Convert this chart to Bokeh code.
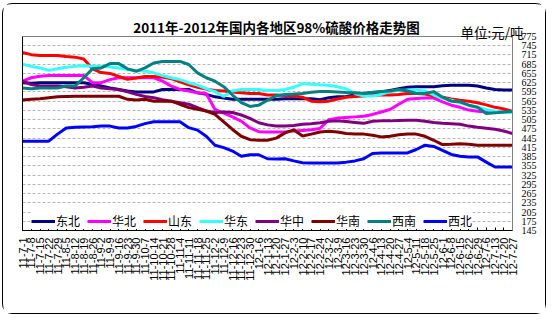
import math
from bokeh.plotting import figure
from bokeh.layouts import column
from bokeh.models import Range1d, FixedTicker, LinearAxis, Label
from bokeh.embed import file_html
from bokeh.resources import INLINE

dates = ["11-7-1", "11-7-8", "11-7-15", "11-7-22", "11-7-29", "11-8-5", "11-8-12", "11-8-19",
         "11-8-26", "11-9-2", "11-9-9", "11-9-16", "11-9-23", "11-9-30", "11-10-7", "11-10-14",
         "11-10-21", "11-10-28", "11-11-4", "11-11-11", "11-11-18", "11-11-25", "11-12-2",
         "11-12-9", "11-12-16", "11-12-23", "11-12-30", "12-1-6", "12-1-13", "12-1-20", "12-1-27",
         "12-2-3", "12-2-10", "12-2-17", "12-2-24", "12-3-2", "12-3-9", "12-3-16", "12-3-23",
         "12-3-30", "12-4-6", "12-4-13", "12-4-20", "12-4-27", "12-5-4", "12-5-11", "12-5-18",
         "12-5-25", "12-6-1", "12-6-8", "12-6-15", "12-6-22", "12-6-29", "12-7-6", "12-7-13",
         "12-7-20", "12-7-27"]

dongbei = [625, 623, 625, 625, 625, 625, 625, 625, 620, 614, 608, 603, 598, 595, 595, 595, 603, 603, 603, 603,
           592, 587, 579, 575, 571, 571, 571, 571, 571, 571,
           573, 573, 573, 573, 570, 576, 579, 580, 585, 590, 592, 595, 600, 605, 610, 612, 612, 612, 615, 617,
           617, 617, 614, 608, 603, 601, 601]
huabei = [630, 641, 646, 648, 648, 648, 648, 648, 625, 625, 635, 641, 641, 641, 641, 641, 630, 614, 603, 598,
          592, 590, 538, 526, 514, 500, 478, 466, 465, 465,
          465, 468, 470, 472, 476, 505, 510, 512, 514, 516, 522, 530, 538, 555, 571, 574, 575, 575, 563, 552,
          545, 536, 532, 530, 530, 530, 530]
shandong = [723, 716, 713, 713, 713, 710, 708, 702, 670, 658, 655, 645, 636, 640, 645, 645, 643, 638, 628, 618,
            610, 604, 600, 598, 595, 592, 590, 590, 585, 585,
            583, 582, 578, 565, 563, 565, 572, 578, 580, 582, 585, 585, 585, 587, 590, 590, 588, 582, 578, 572,
            568, 565, 560, 553, 545, 540, 532]
huadong = [685, 678, 673, 665, 670, 675, 678, 680, 678, 678, 676, 673, 668, 665, 662, 657, 648, 641, 635, 625,
           617, 606, 596, 580, 598, 603, 603, 603, 600, 600,
           603, 610, 622, 620, 618, 617, 612, 605, 590, 582, 582, 587, 596, 600, 601, 601, 598, 585, 575, 568,
           560, 552, 545, 538, 532, 528, 528]
huazhong = [630, 619, 614, 614, 614, 612, 608, 610, 614, 608, 605, 603, 595, 587, 580, 576, 570, 565, 560, 555,
            544, 533, 528, 530, 528, 520, 509, 495, 488, 484,
            484, 486, 490, 492, 495, 500, 501, 499, 496, 493, 500, 501, 501, 502, 503, 503, 500, 496, 493, 492,
            490, 484, 480, 477, 474, 468, 460]
huanan = [569, 571, 573, 576, 579, 580, 581, 581, 581, 581, 581, 581, 571, 569, 571, 565, 565, 565, 555, 544,
          539, 533, 522, 498, 473, 451, 440, 438, 438, 445,
          462, 472, 452, 458, 465, 467, 465, 460, 458, 458, 454, 449, 451, 456, 458, 458, 451, 438, 424, 425,
          427, 425, 422, 422, 422, 422, 422]
xinan = [608, 605, 608, 608, 608, 614, 614, 641, 670, 673, 687, 687, 670, 662, 673, 689, 694, 694, 694, 684,
         657, 641, 630, 612, 585, 560, 548, 552, 568, 583,
         587, 588, 590, 594, 596, 596, 595, 593, 592, 590, 594, 596, 598, 603, 598, 590, 590, 596, 578, 565,
         563, 552, 545, 525, 527, 530, 532]
xibei = [435, 435, 435, 435, 458, 478, 480, 481, 482, 484, 484, 478, 478, 483, 492, 498, 498, 498, 498, 479,
         471, 451, 422, 414, 403, 386, 391, 391, 378, 377,
         378, 371, 365, 364, 364, 364, 364, 367, 371, 378, 395, 397, 397, 397, 397, 408, 422, 418, 405, 392,
         386, 384, 384, 367, 351, 351, 351]

series_names = ["东北", "华北", "山东", "华东", "华中", "华南", "西南", "西北"]
series_values = [dongbei, huabei, shandong, huadong, huazhong, huanan, xinan, xibei]
series_colors = ["#000080", "#FF00FF", "#FF0000", "#33FFFF", "#800080", "#800000", "#008080", "#0000FF"]

y_ticks = list(range(145, 776, 30))
title_text = "2011年-2012年国内各地区98%硫酸价格走势图"
unit_text = "单位:元/吨"

xs = list(range(len(dates)))

# canvas sits inside a rounded 1.5px frame; canvas origin on the page is about (3.5, 4.5)
W, H = 542, 309
p = figure(width=W, height=H, output_backend="svg", toolbar_location=None,
           x_range=Range1d(0, len(dates) - 1), y_range=Range1d(min(y_ticks), max(y_ticks)),
           y_axis_location="right",
           min_border_left=19, min_border_right=33, min_border_top=32, min_border_bottom=83)

p.background_fill_color = "white"
p.border_fill_color = "white"
p.outline_line_color = "#808080"
p.outline_line_width = 1
p.title.visible = False

# right y axis
yax = p.right[0]
ytk = FixedTicker(ticks=y_ticks)
yax.ticker = ytk
yax.major_label_text_font = "Liberation Sans Narrow"
yax.major_label_text_font_size = "10px"
yax.major_label_text_color = "black"
yax.major_tick_line_color = None
yax.minor_tick_line_color = None
yax.major_label_standoff = 3
yax.axis_line_color = "#808080"

p.ygrid.ticker = ytk
p.ygrid.grid_line_color = "#B4B4B4"
p.ygrid.grid_line_dash = "3 2"
p.ygrid.grid_line_width = 1
p.xgrid.visible = False

# left axis line only
lax = LinearAxis(ticker=FixedTicker(ticks=[]), major_label_text_font_size="0px",
                 axis_line_color="black", major_tick_line_color=None, minor_tick_line_color=None)
p.add_layout(lax, "left")

# x axis
xax = p.below[0]
xax.ticker = FixedTicker(ticks=xs)
xax.major_label_overrides = {i: d for i, d in enumerate(dates)}
xax.major_label_orientation = math.pi / 2
xax.major_label_text_font = "Liberation Sans"
xax.major_label_text_font_size = "11px"
xax.major_label_text_color = "black"
xax.major_tick_in = 3
xax.major_tick_out = 0
xax.major_tick_line_color = "black"
xax.minor_tick_line_color = None
xax.major_label_standoff = 7
xax.axis_line_color = "black"

for name, vals, col in zip(series_names, series_values, series_colors):
    p.line(xs, vals, line_color=col, line_width=3, legend_label=name)

lg = p.legend[0]
lg.orientation = "horizontal"
lg.location = (9, 1)
lg.padding = 0
lg.margin = 0
lg.spacing = 7
lg.glyph_width = 24
lg.glyph_height = 14
lg.label_height = 14
lg.label_standoff = 1
lg.label_text_font = "Noto Sans CJK SC"
lg.label_text_font_size = "12px"
lg.label_text_color = "black"
lg.border_line_color = None
lg.background_fill_color = "white"
lg.background_fill_alpha = 1

# title and unit text as labels in side panels (not clipped to the frame)
p.add_layout(Label(x=273, y=22, x_units="canvas", y_units="canvas", text=title_text,
                   text_font="Noto Sans CJK SC", text_font_size="13.5px", text_font_style="bold",
                   text_align="center", text_baseline="middle", text_color="black"), "above")
p.add_layout(Label(x=457, y=27, x_units="canvas", y_units="canvas", text=unit_text,
                   text_font="Noto Sans CJK SC", text_font_size="13.5px", text_baseline="middle",
                   text_color="black"), "below")

page = column(p, styles={"border": "1.5px solid black", "border-radius": "10px",
                         "margin-left": "2px", "margin-top": "3px", "background-color": "white"})

open("out.html", "w").write(file_html(page, INLINE))
